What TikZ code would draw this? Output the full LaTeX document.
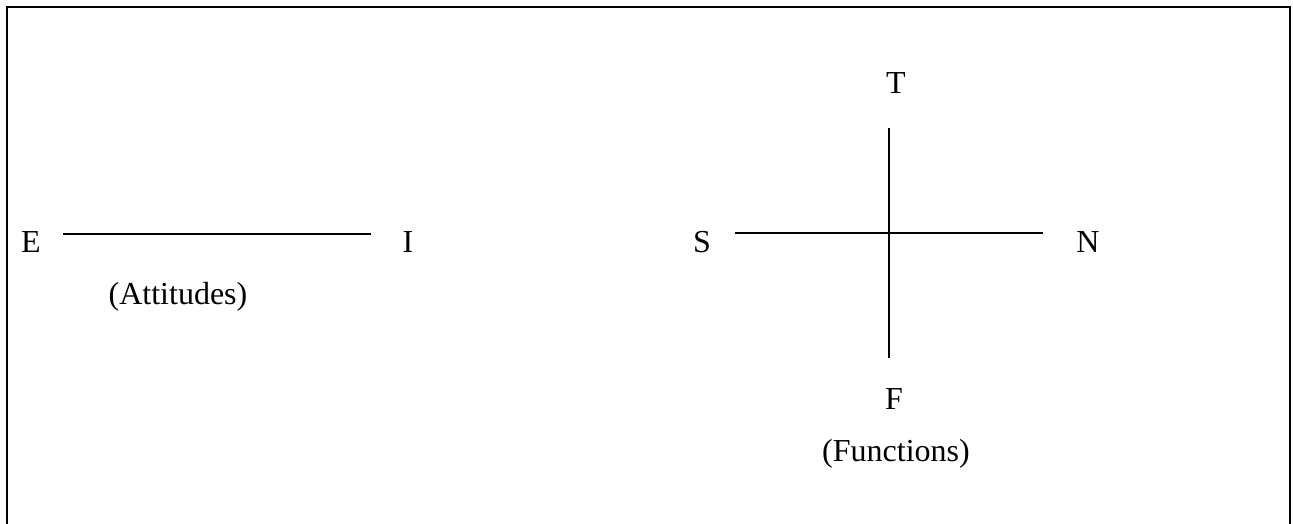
\documentclass[tikz,border=0pt]{standalone}
\usepackage{fontspec}
\setmainfont{Liberation Serif}
\usetikzlibrary{positioning}

\begin{document}
\begin{tikzpicture}[x=1pt,y=1pt,line cap=butt,line join=miter,
		letter/.style={inner sep=0pt,font=\fontsize{32}{38}\selectfont},
		axis/.style={line width=1.5pt}]
		\useasboundingbox (0,0) rectangle (1293,523);
		% frame (open at the bottom)
		\draw[line width=2.4pt] (7,-5) -- (7,516) -- (1290,516) -- (1290,-5);
		% attitudes
		\node[letter] (e) at (31,281) {E};
		\node[letter] (i) at (408,281) {I};
		\coordinate (eileft) at (63,289);
		\coordinate (eiright) at (371,289);
		\draw[axis] (eileft) -- (eiright);
		\node[letter] (attitudes) at (178,226) {(Attitudes)};
		% functions
		\node[letter] (t) at (896,440) {T};
		\node[letter] (s) at (702,281) {S};
		\node[letter] (n) at (1088,281) {N};
		\node[letter] (f) at (894,124) {F};
		\node[letter] (functions) at (896,69) {(Functions)};
		\coordinate (snleft) at (735,290);
		\coordinate (snright) at (1043,290);
		\coordinate (tftop) at (889,395);
		\coordinate (tfbottom) at (889,165);
		\draw[axis] (snleft) -- (snright);
		\draw[axis] (tftop) -- (tfbottom);
\end{tikzpicture}
\end{document}
